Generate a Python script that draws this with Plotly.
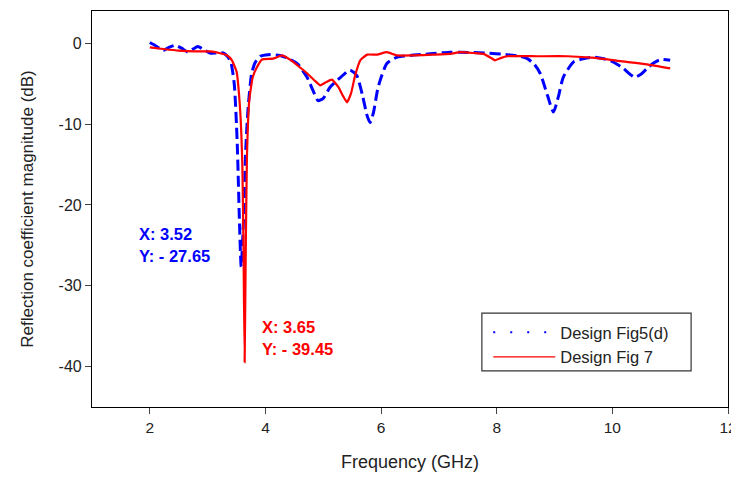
import plotly.graph_objects as go

# Design Fig5(d) (blue dashed)
blue_x = [2.0, 2.1, 2.23, 2.33, 2.44, 2.55, 2.66, 2.75, 2.83, 2.94, 3.04, 3.15, 3.27, 3.34, 3.4,
          3.46, 3.51, 3.55, 3.58, 3.62, 3.66, 3.7, 3.76, 3.82, 3.91, 4.05, 4.25, 4.4, 4.55, 4.72,
          4.82, 4.91, 5.0, 5.12, 5.3, 5.46, 5.58, 5.68, 5.76, 5.81, 5.87, 5.95, 6.1, 6.28, 6.5,
          6.85, 7.2, 7.37, 7.8, 8.18, 8.4, 8.53, 8.65, 8.75, 8.88, 8.98, 9.07, 9.15, 9.33, 9.5,
          9.67, 9.85, 10.01, 10.19, 10.3, 10.39, 10.5, 10.6, 10.72, 10.83, 11.0]
blue_y = [0.1, -0.3, -0.9, -0.5, -0.25, -0.6, -1.1, -0.7, -0.4, -0.8, -1.2, -1.2, -1.2, -1.6, -2.3,
          -5, -12, -22, -27.65, -22, -13, -8, -3.8, -2.4, -1.6, -1.4, -1.5, -1.9, -2.5, -4.2,
          -5.8, -7.1, -6.8, -5.4, -4.2, -3.3, -4.0, -6.5, -9, -9.8, -8.5, -5.4, -2.5, -1.7, -1.5,
          -1.3, -1.1, -1.1, -1.2, -1.4, -1.6, -1.9, -2.6, -3.7, -6.5, -8.5, -6.5, -4.2, -2.3, -1.9,
          -1.7, -1.9, -2.3, -3.1, -3.8, -4.2, -3.8, -3.1, -2.4, -2.0, -2.1]

# Design Fig 7 (red solid)
red_x = [2.0, 2.23, 2.5, 2.8, 3.04, 3.2, 3.34, 3.42, 3.5, 3.56, 3.6, 3.62, 3.64, 3.66, 3.68, 3.72,
         3.78, 3.85, 3.94, 4.13, 4.29, 4.48, 4.6, 4.72, 4.85, 4.95, 5.05, 5.15, 5.26, 5.34, 5.41,
         5.48, 5.55, 5.64, 5.76, 5.93, 6.1, 6.28, 6.55, 6.9, 7.2, 7.37, 7.6, 7.77, 7.9, 7.97, 8.08,
         8.18, 8.7, 9.22, 9.7, 10.13, 10.6, 11.0]
red_y = [-0.5, -0.7, -0.9, -1.0, -1.0, -1.2, -1.5, -2.1, -3.5, -8, -15, -25, -39.45, -25, -14, -7,
         -4.2, -3.0, -2.0, -1.9, -1.5, -2.3, -3.0, -3.7, -4.6, -5.2, -4.8, -4.5, -5.4, -6.5, -7.3,
         -6.2, -4, -2.1, -1.4, -1.4, -1.1, -1.5, -1.5, -1.4, -1.3, -1.1, -1.2, -1.3, -1.8, -2.1, -1.8,
         -1.6, -1.6, -1.6, -1.8, -2.2, -2.6, -3.1]

x_ticks = [2, 4, 6, 8, 10, 12]
y_ticks = [0, -10, -20, -30, -40]
y_tick_labels = ["0", "-10", "-20", "-30", "-40"]

# marker read-outs
blue_label = ["X: 3.52", "Y: - 27.65"]
red_label = ["X: 3.65", "Y: - 39.45"]

BLUE = "#0000ff"
RED = "#ff0000"
FONT = "Liberation Sans, Arial, sans-serif"
TXT = "#222222"

fig = go.Figure()
fig.add_trace(go.Scatter(x=blue_x, y=blue_y, mode="lines", showlegend=False,
                         line=dict(color=BLUE, width=3, dash="11px,5px", shape="spline", smoothing=0.6)))
fig.add_trace(go.Scatter(x=red_x, y=red_y, mode="lines", showlegend=False,
                         line=dict(color=RED, width=2.2, shape="spline", smoothing=0.4)))
# legend entries
fig.add_trace(go.Scatter(x=[None], y=[None], mode="lines", name="Design Fig5(d)",
                         line=dict(color=BLUE, width=2, dash="2px,15px")))
fig.add_trace(go.Scatter(x=[None], y=[None], mode="lines", name="Design Fig 7",
                         line=dict(color=RED, width=1.2)))

for txt, yy in zip(blue_label, [-23.6, -26.3]):
    fig.add_annotation(x=1.80, y=yy, xref="x", yref="y", xanchor="left", yanchor="middle",
                       text="<b>" + txt + "</b>", showarrow=False, borderpad=0,
                       font=dict(family=FONT, size=16.5, color=BLUE))
for txt, yy in zip(red_label, [-35.1, -37.8]):
    fig.add_annotation(x=3.92, y=yy, xref="x", yref="y", xanchor="left", yanchor="middle",
                       text="<b>" + txt + "</b>", showarrow=False, borderpad=0,
                       font=dict(family=FONT, size=16.5, color=RED))

# legend frame
fig.add_shape(type="rect", xref="paper", yref="paper", x0=0.613, x1=0.942, y0=0.091, y1=0.237,
              line=dict(color="#333333", width=1.2), fillcolor="rgba(0,0,0,0)")

fig.update_layout(
    width=731, height=471,
    margin=dict(l=84, r=11, t=3, b=72, autoexpand=False),
    paper_bgcolor="white", plot_bgcolor="white",
    font=dict(family=FONT, size=16, color=TXT),
    legend=dict(x=0.623, y=0.232, xanchor="left", yanchor="top",
                borderwidth=0, bgcolor="rgba(0,0,0,0)",
                font=dict(family=FONT, size=16.5, color=TXT),
                tracegroupgap=0, itemwidth=62),
    xaxis=dict(range=[1, 12], tickvals=x_ticks, ticks="outside", ticklen=6, automargin=False,
               showgrid=False, zeroline=False, showline=True, linecolor="black",
               linewidth=1.2, mirror=True, tickfont=dict(size=15.5, color=TXT),
               title=dict(text="Frequency (GHz)", font=dict(family=FONT, size=18), standoff=20)),
    yaxis=dict(range=[-45, 4], tickvals=y_ticks, ticktext=y_tick_labels, ticks="outside",
               ticklen=6, showgrid=False, zeroline=False, showline=True, linecolor="black",
               linewidth=1.2, mirror=True, automargin=False, tickfont=dict(size=16, color=TXT),
               title=dict(text="Reflection coefficient magnitude (dB)",
                          font=dict(family=FONT, size=17), standoff=20)),
)

fig.write_html("out.html")
